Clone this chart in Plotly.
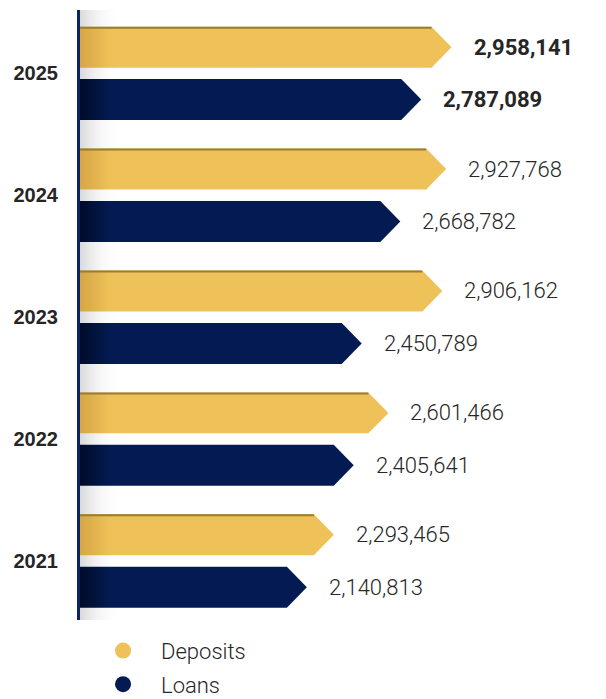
import plotly.graph_objects as go

# ---- data ----
years = ["2021", "2022", "2023", "2024", "2025"]
deposits = [2293465, 2601466, 2906162, 2927768, 2958141]
loans = [2140813, 2405641, 2450789, 2668782, 2787089]
series_names = ["Deposits", "Loans"]

# ---- styles ----
YELLOW = "#EEC159"
YELLOW_DARK = "#D5A645"
NAVY = "#031B52"
NAVY_DARK = "#010B28"
AXIS = "#0B2361"
TEXT = "#262626"

X0 = 859000          # x-axis start (where bars begin)
X1 = 3831000         # x-axis end
PX = 177 / 1e6       # approx pixels per unit (for style-constant sizing)
ARROW = 20 / PX      # arrow head length in data units
OFF = 0.215          # vertical offset of each bar from year center
HALF = 0.168         # half bar height

fig = go.Figure()

# soft shadow next to axis
sw = 40 / PX
fig.add_trace(go.Scatter(
    x=[X0, X0 + sw, X0 + sw, X0, X0], y=[-0.6, -0.6, 4.6, 4.6, -0.6],
    fill="toself", mode="lines", line=dict(width=0),
    fillgradient=dict(type="horizontal",
                      colorscale=[[0, "rgba(0,0,0,0.15)"], [1, "rgba(255,255,255,0)"]]),
    hoverinfo="skip", showlegend=False))


def arrow_bar(v, yc, base, dark):
    xs = [X0, v - ARROW, v, v - ARROW, X0, X0]
    ys = [yc + HALF, yc + HALF, yc, yc - HALF, yc - HALF, yc + HALF]
    f = min(0.9, (30 / PX) / (v - X0))
    return go.Scatter(
        x=xs, y=ys, fill="toself", mode="lines", line=dict(width=0),
        fillgradient=dict(type="horizontal",
                          colorscale=[[0, dark], [f, base], [1, base]]),
        hoverinfo="skip", showlegend=False)


for i, yr in enumerate(years):
    d, l = deposits[i], loans[i]
    yd, yl = i + OFF, i - OFF
    fig.add_trace(arrow_bar(d, yd, YELLOW, YELLOW_DARK))
    # darker top edge on yellow bar
    fig.add_trace(go.Scatter(x=[X0, d - ARROW], y=[yd + HALF - 0.008] * 2, mode="lines",
                             line=dict(color="#9A7A35", width=2),
                             hoverinfo="skip", showlegend=False))
    fig.add_trace(arrow_bar(l, yl, NAVY, NAVY_DARK))
    bold = (i == len(years) - 1)
    for v, yc in ((d, yd), (l, yl)):
        fig.add_annotation(
            x=v, y=yc, text=f"{v:,}", showarrow=False, xanchor="left", yanchor="middle",
            xshift=20,
            font=dict(family="Roboto", size=22, color=TEXT, weight=700 if bold else 300))

# legend entries
for name, col in zip(series_names, [YELLOW, NAVY]):
    fig.add_trace(go.Scatter(x=[None], y=[None], mode="markers", name=name,
                             marker=dict(size=20, color=col, symbol="circle"),
                             legendgroup=name))

fig.update_layout(
    width=606, height=699,
    margin=dict(l=80, r=0, t=10, b=79, autoexpand=False),
    paper_bgcolor="white", plot_bgcolor="white",
    xaxis=dict(range=[X0, X1], visible=False, fixedrange=True),
    yaxis=dict(range=[-0.484, 4.52], tickvals=list(range(len(years))), ticktext=years,
               showline=True, linecolor=AXIS, linewidth=3, showgrid=False, zeroline=False,
               ticks="", ticklabelstandoff=15,
               tickfont=dict(family="Liberation Sans", size=20, color=TEXT, weight=700)),
    legend=dict(x=0.0096, y=-0.016, xanchor="left", yanchor="top", orientation="v",
                font=dict(family="Roboto", size=22, color=TEXT, weight=300),
                itemsizing="trace", itemwidth=66, tracegroupgap=2,
                bgcolor="rgba(0,0,0,0)"),
    showlegend=True,
)

fig.write_html("out.html")
